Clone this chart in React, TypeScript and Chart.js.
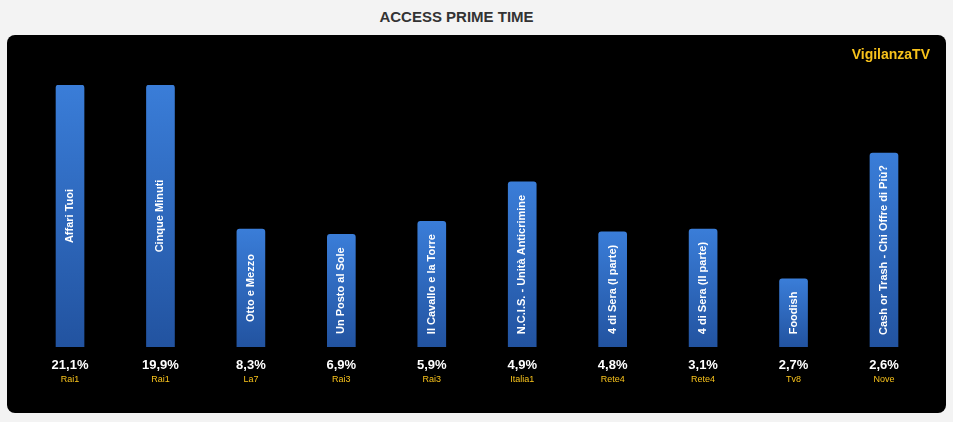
import React, { useEffect, useRef } from "react";
import { Chart, registerables } from "chart.js";

Chart.register(...registerables);

const programs = [
  "Affari Tuoi",
  "Cinque Minuti",
  "Otto e Mezzo",
  "Un Posto al Sole",
  "Il Cavallo e la Torre",
  "N.C.I.S. - Unità Anticrimine",
  "4 di Sera (I parte)",
  "4 di Sera (II parte)",
  "Foodish",
  "Cash or Trash - Chi Offre di Più?",
];
const shares = [21.1, 19.9, 8.3, 6.9, 5.9, 4.9, 4.8, 3.1, 2.7, 2.6];
const channels = ["Rai1", "Rai1", "La7", "Rai3", "Rai3", "Italia1", "Rete4", "Rete4", "Tv8", "Nove"];
const barValues = [100, 100, 45, 43, 48, 63, 44, 45, 26, 74];

const FONT = "'Liberation Sans', Arial, Helvetica, sans-serif";
const YELLOW = "#f7c21b";

const fmt = (v: number) => v.toFixed(1).replace(".", ",") + "%";

const labelsPlugin = {
  id: "barLabels",
  afterDatasetsDraw(chart: any) {
    const ctx = chart.ctx;
    const meta = chart.getDatasetMeta(0);
    const area = chart.chartArea;
    ctx.save();
    meta.data.forEach((bar: any, i: number) => {
      const x = bar.x;
      const top = bar.y;
      const bottom = bar.base;
      ctx.save();
      ctx.translate(x, (top + bottom) / 2);
      ctx.rotate(-Math.PI / 2);
      ctx.fillStyle = "#ffffff";
      ctx.font = `bold 11px ${FONT}`;
      ctx.textAlign = "center";
      ctx.textBaseline = "middle";
      ctx.fillText(programs[i], 0, 0);
      ctx.restore();
      ctx.fillStyle = "#ffffff";
      ctx.font = `bold 13px ${FONT}`;
      ctx.textAlign = "center";
      ctx.textBaseline = "middle";
      ctx.fillText(fmt(shares[i]), x, area.bottom + 18);
      ctx.fillStyle = YELLOW;
      ctx.font = `9px ${FONT}`;
      ctx.fillText(channels[i], x, area.bottom + 33);
    });
    ctx.restore();
  },
};

export default function App() {
  const ref = useRef<HTMLCanvasElement>(null);

  useEffect(() => {
    document.body.style.margin = "0";
    const canvas = ref.current!;
    const chart = new Chart(canvas, {
      type: "bar",
      data: {
        labels: programs,
        datasets: [
          {
            data: barValues,
            backgroundColor: (c: any) => {
              const ch = c.chart;
              const y = ch.scales?.y;
              const area = ch.chartArea;
              if (!y || !area || c.dataIndex === undefined) return "#2d68c0";
              const top = y.getPixelForValue(barValues[c.dataIndex]);
              const g = ch.ctx.createLinearGradient(0, top, 0, area.bottom);
              g.addColorStop(0, "#3a7dd8");
              g.addColorStop(1, "#2253a0");
              return g;
            },
            borderRadius: { topLeft: 3, topRight: 3, bottomLeft: 0, bottomRight: 0 },
            borderSkipped: "bottom",
            barThickness: 28,
          },
        ],
      },
      options: {
        animation: false,
        responsive: false,
        layout: { padding: { left: 17.8, right: 16.8, top: 50, bottom: 66 } },
        plugins: { legend: { display: false }, tooltip: { enabled: false }, title: { display: false } },
        scales: {
          x: { display: false },
          y: { display: false, min: 0, max: 100 },
        },
      },
      plugins: [labelsPlugin],
    });
    return () => chart.destroy();
  }, []);

  return (
    <div
      style={{
        position: "absolute",
        left: 0,
        top: 0,
        width: 953,
        height: 422,
        background: "#f3f3f3",
        fontFamily: FONT,
      }}
    >
      <div
        style={{
          position: "absolute",
          left: 0,
          top: 8,
          width: 913,
          textAlign: "center",
          fontWeight: "bold",
          fontSize: 15,
          color: "#333333",
          lineHeight: "18px",
        }}
      >
        ACCESS PRIME TIME
      </div>
      <div
        style={{
          position: "absolute",
          left: 7,
          top: 35,
          width: 939,
          height: 378,
          background: "#000000",
          borderRadius: 8,
          overflow: "hidden",
        }}
      >
        <canvas ref={ref} width={939} height={378} style={{ display: "block" }} />
        <div
          style={{
            position: "absolute",
            right: 16,
            top: 11,
            color: YELLOW,
            fontWeight: "bold",
            fontSize: 14,
            lineHeight: "16px",
          }}
        >
          VigilanzaTV
        </div>
      </div>
    </div>
  );
}
